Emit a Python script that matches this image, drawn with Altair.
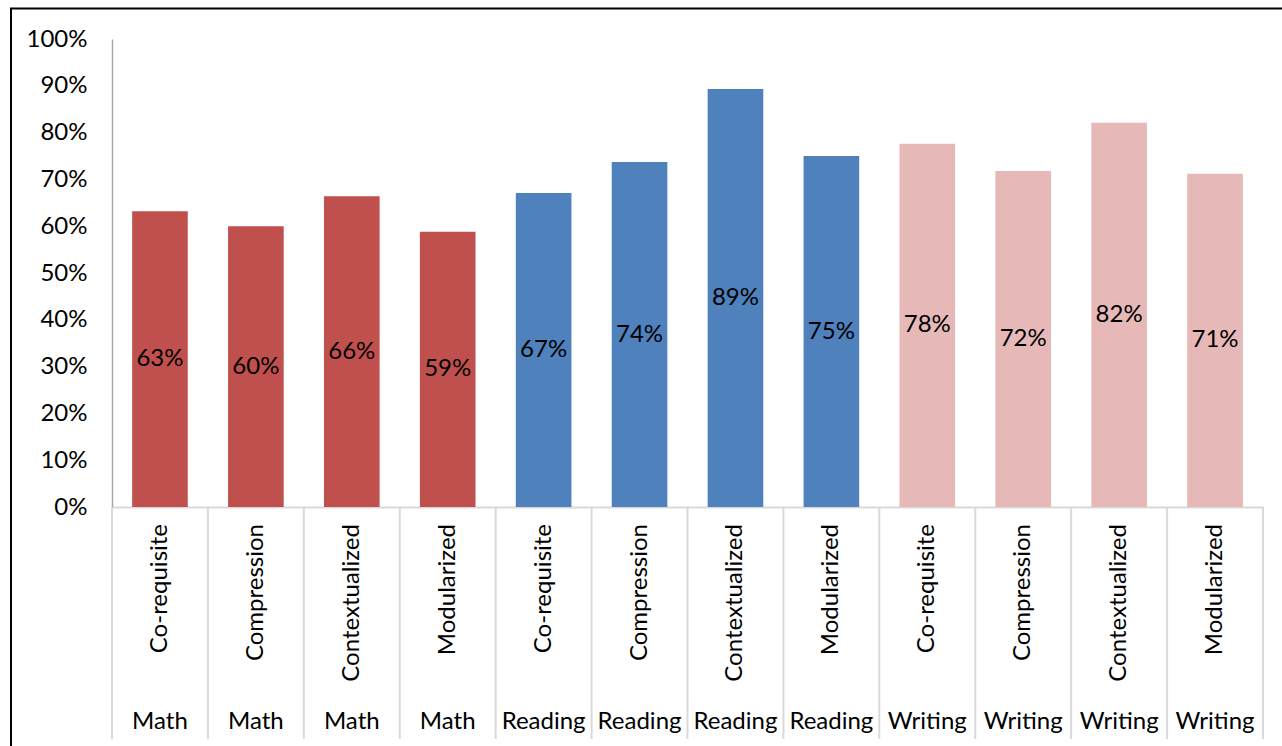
import altair as alt
import pandas as pd

groups = ["Math"] * 4 + ["Reading"] * 4 + ["Writing"] * 4
methods = ["Co-requisite", "Compression", "Contextualized", "Modularized"] * 3
values = [0.632, 0.600, 0.664, 0.588, 0.671, 0.737, 0.893, 0.750, 0.776, 0.718, 0.821, 0.712]
group_names = ["Math", "Reading", "Writing"]
group_colors = ["#C0504D", "#4F81BD", "#E6B9B8"]
y_ticks = [i / 10 for i in range(11)]
boundaries = list(range(13))

FONT = "Lato"
W, H = 1151, 468

df = pd.DataFrame({"group": groups, "method": methods, "value": values})
df["id"] = df["group"] + "|" + df["method"]
order = list(df["id"])

base = alt.Chart(df)

xscale = alt.Scale(paddingInner=0.42, paddingOuter=0.21)
xenc = alt.X("id:N", sort=order, title=None, scale=xscale,
             axis=alt.Axis(labels=False, ticks=False, domain=True,
                           domainColor="#D9D9D9", domainWidth=2, grid=False))

bars = base.mark_bar().encode(
    x=xenc,
    y=alt.Y("value:Q", title=None,
            scale=alt.Scale(domain=[0, 1], nice=False),
            axis=alt.Axis(values=y_ticks, format=".0%", ticks=False, grid=False,
                          domainColor="#A6A6A6", domainWidth=1.5,
                          labelFont=FONT, labelFontSize=24, labelColor="black",
                          labelPadding=25)),
    color=alt.Color("group:N", scale=alt.Scale(domain=group_names, range=group_colors),
                    legend=None),
)

labels = base.transform_calculate(mid="datum.value / 2").mark_text(
    font=FONT, fontSize=24, color="black", baseline="middle", align="center"
).encode(
    x=alt.X("id:N", sort=order),
    y=alt.Y("mid:Q"),
    text=alt.Text("value:Q", format=".0%"),
)

sub_labels = base.mark_text(
    font=FONT, fontSize=24, color="black", angle=270, align="right", baseline="middle"
).encode(
    x=alt.X("id:N", sort=order),
    y=alt.value(H + 17),
    text="method:N",
)

group_labels = base.mark_text(
    font=FONT, fontSize=24, color="black", align="center", baseline="middle"
).encode(
    x=alt.X("id:N", sort=order),
    y=alt.value(H + 215),
    text="group:N",
)

seps = alt.Chart(pd.DataFrame({"b": boundaries})).mark_rule(
    color="#D9D9D9", strokeWidth=2
).encode(
    x=alt.X("b:Q", scale=alt.Scale(domain=[0, 12], nice=False, zero=False), axis=None),
    y=alt.value(H),
    y2=alt.value(H + 232),
)

border = alt.Chart(pd.DataFrame({"k": [0]})).mark_rect(
    fill=None, fillOpacity=0, stroke="black", strokeWidth=2
).encode(
    x=alt.value(-101),
    x2=alt.value(W + 300),
    y=alt.value(-30.5),
    y2=alt.value(H + 400),
)

main = alt.layer(bars, labels, sub_labels, group_labels)
chart = alt.layer(main, seps, border).resolve_scale(x="independent").properties(
    width=W, height=H,
    background="white",
    autosize=alt.AutoSizeParams(type="none"),
    padding={"left": 112, "top": 39, "right": 19, "bottom": 239},
).configure_view(stroke="transparent", strokeWidth=0)

chart.save("out.html", embed_options={"renderer": "svg", "actions": False})
